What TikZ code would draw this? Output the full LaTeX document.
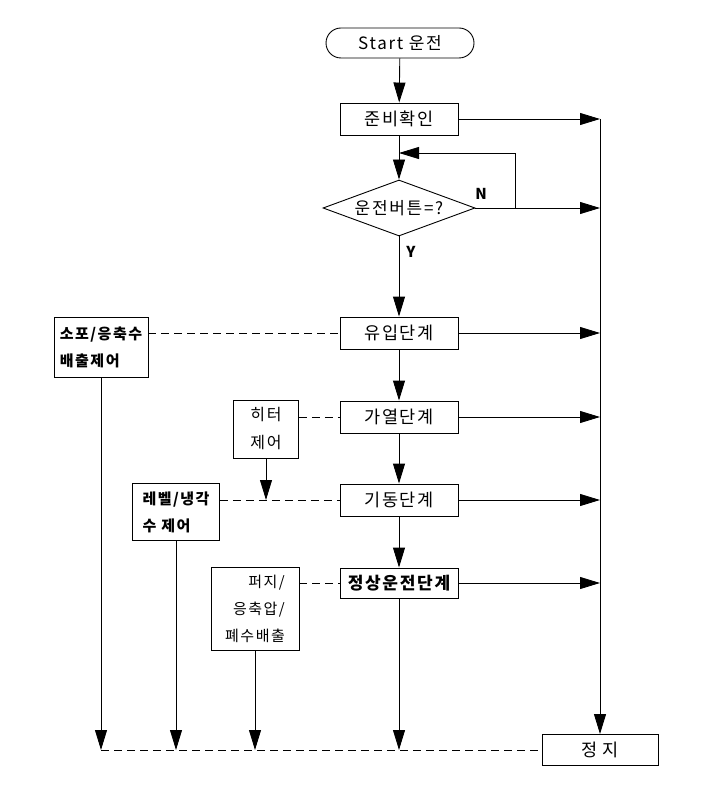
\documentclass[tikz,border=0pt]{standalone}
\usepackage{fontspec}
\setmainfont{Noto Sans CJK KR}[LetterSpace=10]
\usetikzlibrary{arrows.meta,shapes.geometric,shapes.misc}
\begin{document}
\begin{tikzpicture}[x=1pt,y=-1pt,line width=0.9pt,
  stage/.style={draw,rectangle,minimum width=118pt,minimum height=32pt,inner sep=0pt,font=\fontsize{17.5}{20}\selectfont},
  side/.style={draw,rectangle,inner sep=0pt,font=\fontsize{15}{27}\selectfont},
  arr/.style={-{Triangle[length=20pt,width=12pt]}},
  dashline/.style={dash pattern=on 8pt off 5pt}]
\useasboundingbox (0,0) rectangle (716,799);
\node[draw,rounded rectangle,minimum width=148pt,minimum height=30pt,inner sep=0pt,font=\fontsize{17}{20}\selectfont] (start) at (400,43) {Start 운전};
\node[stage] (ready) at (399,119) {준비확인};
\node[draw,diamond,aspect=2.7,minimum width=152pt,minimum height=56pt,inner sep=0pt,font=\fontsize{17}{20}\selectfont] (button) at (399,208) {운전버튼=?};
\node[stage] (inflow) at (399,333) {유입단계};
\node[stage] (heat) at (399,417) {가열단계};
\node[stage] (boot) at (399,500) {기동단계};
\node[stage,minimum height=30pt,font=\fontsize{17}{20}\selectfont\bfseries] (normal) at (399,583) {정상운전단계};
\node[stage,minimum width=116pt,minimum height=31pt] (stop) at (600,750) {정 지};
\node[side,align=left,minimum width=94pt,minimum height=60pt,font=\fontsize{15}{27}\selectfont\bfseries] (drain) at (101,347) {소포/응축수\\배출제어};
\node[side,align=center,minimum width=65pt,minimum height=58pt,font=\fontsize{16}{28}\selectfont] (heater) at (266,429) {히터\\제어};
\node[side,align=left,minimum width=87pt,minimum height=57pt,font=\fontsize{15}{27}\selectfont\bfseries] (level) at (176,512) {레벨/냉각\\수 제어};
\node[side,align=right,minimum width=88pt,minimum height=83pt] (purge) at (255,609) {퍼지/\\응축압/\\폐수배출};
\node[font=\fontsize{15}{18}\selectfont\bfseries] (nlabel) at (481,194) {N};
\node[font=\fontsize{15}{18}\selectfont\bfseries] (ylabel) at (411,252) {Y};
\coordinate (loop) at (515,153);
\draw[arr] (start) -- (ready);
\draw[arr] (ready) -- (button);
\draw[arr] (button) -- (inflow);
\draw[arr] (inflow) -- (heat);
\draw[arr] (heat) -- (boot);
\draw[arr] (boot) -- (normal);
\draw[arr] (ready.east) -- (ready.east -| stop.north);
\draw[arr] (button.east) -- (button.east -| stop.north);
\draw[arr] (button.east -| loop) -- (loop) -- (loop -| ready.south);
\draw[arr] (inflow.east) -- (inflow.east -| stop.north);
\draw[arr] (heat.east) -- (heat.east -| stop.north);
\draw[arr] (boot.east) -- (boot.east -| stop.north);
\draw[arr] (normal.east) -- (normal.east -| stop.north);
\draw[arr] (ready.east -| stop.north) -- (stop.north);
\draw[dashline] (drain.east |- inflow.west) -- (inflow.west);
\draw[dashline] (heater.east |- heat.west) -- (heat.west);
\draw[dashline] (level.east |- boot.west) -- (boot.west);
\draw[dashline] (purge.east |- normal.west) -- (normal.west);
\draw[arr] (heater.south) -- (heater.south |- boot.west);
\draw[dashline] (drain.south |- stop.west) -- (stop.west);
\draw[arr] (drain.south) -- (drain.south |- stop.west);
\draw[arr] (level.south) -- (level.south |- stop.west);
\draw[arr] (purge.south) -- (purge.south |- stop.west);
\draw[arr] (normal.south) -- (normal.south |- stop.west);
\end{tikzpicture}
\end{document}
